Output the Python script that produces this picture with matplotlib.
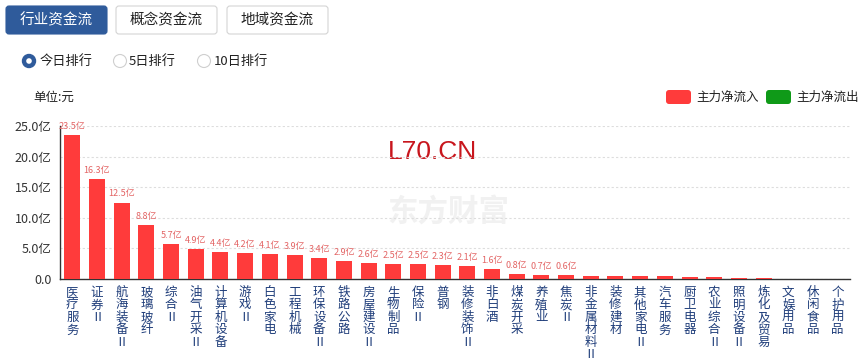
import numpy as np
import matplotlib.pyplot as plt
from matplotlib.patches import FancyBboxPatch, Circle

plt.rcParams['font.family'] = ['Noto Sans CJK SC', 'DejaVu Sans']

# 行业资金流 - 今日排行 (单位: 亿元)
industries = ['医疗服务', '证券Ⅱ', '航海装备Ⅱ', '玻璃玻纤', '综合Ⅱ', '油气开采Ⅱ', '计算机设备',
              '游戏Ⅱ', '白色家电', '工程机械', '环保设备Ⅱ', '铁路公路', '房屋建设Ⅱ', '生物制品',
              '保险Ⅱ', '普钢', '装修装饰Ⅱ', '非白酒', '煤炭开采', '养殖业', '焦炭Ⅱ',
              '非金属材料Ⅱ', '装修建材', '其他家电Ⅱ', '汽车服务', '厨卫电器', '农业综合Ⅱ',
              '照明设备Ⅱ', '炼化及贸易', '文娱用品', '休闲食品', '个护用品']
net_inflow = [23.5, 16.3, 12.5, 8.8, 5.7, 4.9, 4.4, 4.2, 4.1, 3.9, 3.4, 2.9, 2.6, 2.5,
              2.5, 2.3, 2.1, 1.6, 0.8, 0.7, 0.6,
              0.5, 0.45, 0.45, 0.42, 0.4, 0.25, 0.12, 0.1, 0.08, 0.06, 0.03]
labeled_count = 21
y_ticks = [0, 5, 10, 15, 20, 25]

W, H = 868, 364
fig = plt.figure(figsize=(W / 100, H / 100), dpi=100)

# 页面控件层 (像素坐标)
ui = fig.add_axes([0, 0, 1, 1])
ui.set_xlim(0, W)
ui.set_ylim(H, 0)
ui.axis('off')

blue = '#2f5b9b'
buttons = [('行业资金流', 6, True), ('概念资金流', 116, False), ('地域资金流', 227, False)]
for txt, x0, sel in buttons:
    ui.add_patch(FancyBboxPatch((x0, 6), 101, 28, boxstyle='round,pad=0,rounding_size=3',
                                facecolor=blue if sel else 'white',
                                edgecolor=blue if sel else '#d4d4d4', lw=0.8))
    ui.text(x0 + 50.5, 20, txt, ha='center', va='center', fontsize=10.5,
            color='white' if sel else '#222222')

# 排行单选
ui.add_patch(Circle((29, 61), 6.5, facecolor=blue, edgecolor=blue))
ui.add_patch(Circle((29, 61), 2.8, facecolor='white', edgecolor='none'))
ui.text(40, 61, '今日排行', ha='left', va='center', fontsize=9.5, color='#222222')
ui.add_patch(Circle((120, 61), 6.5, facecolor='white', edgecolor='#cfcfcf', lw=0.8))
ui.text(129, 61, '5日排行', ha='left', va='center', fontsize=9.5, color='#222222')
ui.add_patch(Circle((204, 61), 6.5, facecolor='white', edgecolor='#cfcfcf', lw=0.8))
ui.text(214, 61, '10日排行', ha='left', va='center', fontsize=9.5, color='#222222')

ui.text(33, 97, '单位:元', ha='left', va='center', fontsize=9, color='#222222')

# 图例
ui.add_patch(FancyBboxPatch((666, 90), 25, 14, boxstyle='round,pad=0,rounding_size=3',
                            facecolor='#ff3b3b', edgecolor='none'))
ui.text(696, 97, '主力净流入', ha='left', va='center', fontsize=9, color='#222222')
ui.add_patch(FancyBboxPatch((766, 90), 25, 14, boxstyle='round,pad=0,rounding_size=3',
                            facecolor='#0f9a18', edgecolor='none'))
ui.text(796, 97, '主力净流出', ha='left', va='center', fontsize=9, color='#222222')

# 水印
ui.text(448, 212, '东方财富', ha='center', va='center', fontsize=22, fontweight='bold',
        color='#f1f1f1')
ui.text(433, 152, 'L70.CN', ha='center', va='center', fontsize=19,
        family='Liberation Sans', color='#c8161d')

# 柱状图
ax = fig.add_axes([60 / W, 1 - 279 / H, 790 / W, 153 / H])
ax.set_facecolor('none')
x = np.arange(len(industries))
ax.bar(x, net_inflow, width=0.65, color='#ff3b3b', zorder=3)
for i in range(labeled_count):
    ax.annotate(f'{net_inflow[i]:.1f}亿', (x[i], net_inflow[i]), xytext=(0, 3),
                textcoords='offset points', ha='center', va='bottom', fontsize=6.5,
                color='#e36464')

ax.set_xlim(-0.5, len(industries) - 0.5)
ax.set_ylim(0, 25)
ax.set_yticks(y_ticks)
ax.set_yticklabels(['0.0'] + [f'{v:.1f}亿' for v in y_ticks[1:]], fontsize=9, color='#333333')
ax.set_xticks(x)
ax.set_xticklabels(['\n'.join(name) for name in industries], fontsize=9, color='#1f3d7a',
                   linespacing=0.95, va='top')
ax.tick_params(axis='both', length=0)
ax.tick_params(axis='y', pad=6)
ax.tick_params(axis='x', pad=5)
ax.yaxis.grid(True, linestyle=(0, (2, 2)), color='#dddddd', lw=0.8)
ax.set_axisbelow(True)
for s in ['top', 'right']:
    ax.spines[s].set_visible(False)
for s in ['left', 'bottom']:
    ax.spines[s].set_color('#333333')
    ax.spines[s].set_linewidth(1)

fig.savefig('out.png', dpi=100)
